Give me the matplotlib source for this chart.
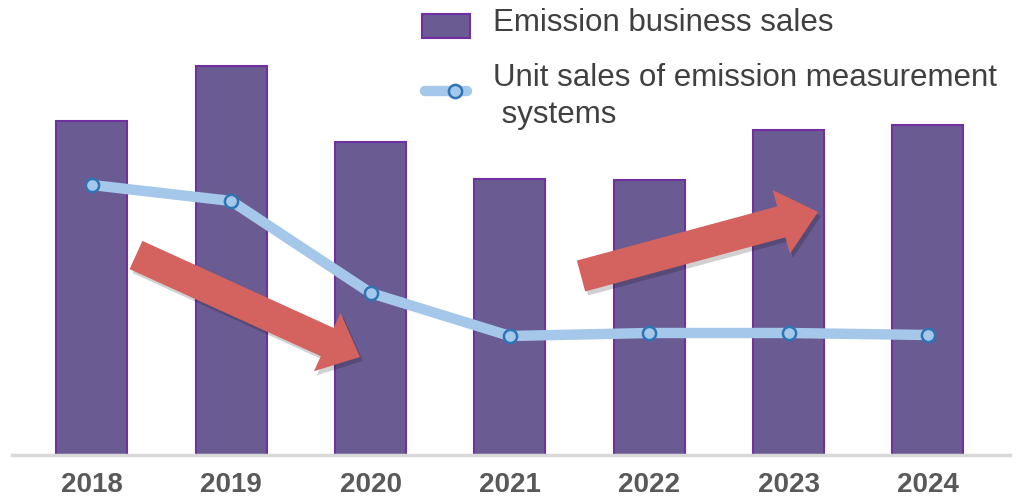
"""Emission business sales vs unit sales of emission measurement systems."""
import numpy as np
import matplotlib
matplotlib.use("Agg")
import matplotlib.pyplot as plt
from matplotlib.patches import Polygon, Rectangle
from matplotlib.lines import Line2D
from matplotlib.transforms import IdentityTransform

years = ["2018", "2019", "2020", "2021", "2022", "2023", "2024"]
business_sales = [334, 389, 313, 276, 275, 325, 330]   # relative index (no axis shown)
unit_sales = [270, 254, 162, 119, 122, 122, 120]       # relative index

W, H = 1033, 498
BAR_FACE = "#6a5b92"
BAR_EDGE = "#7030a0"
LINE_C = "#a4c7ea"
MARK_EDGE = "#2e75b6"
ARROW_C = "#d4625e"
TEXT_C = "#404040"

plt.rcParams["font.family"] = ["Liberation Sans", "DejaVu Sans"]

fig = plt.figure(figsize=(W / 100, H / 100), dpi=100)
ax = fig.add_axes([12 / W, 43 / H, 998 / W, 455 / H])

x = np.arange(len(years))
ax.bar(x, business_sales, width=0.51, color=BAR_FACE, edgecolor=BAR_EDGE,
       linewidth=1.5, zorder=2)
ax.plot(x, unit_sales, color=LINE_C, lw=7.5, solid_capstyle="round", zorder=3,
        marker="o", ms=9.5, mfc=LINE_C, mec=MARK_EDGE, mew=1.8)

ax.set_xlim(-0.574, 6.59)
ax.set_ylim(0, 455)
ax.set_xticks(x)
ax.set_xticklabels(years, fontsize=20, fontweight="bold", color="#595959")
ax.tick_params(axis="x", length=0, pad=12)
ax.set_yticks([])
for s in ["top", "left", "right"]:
    ax.spines[s].set_visible(False)
ax.spines["bottom"].set_color("#d9d9d9")
ax.spines["bottom"].set_linewidth(2.5)


# big block arrows, given in image pixel coords (y down)
def block_arrow(tail, tip, shaft_w, head_w, head_l):
    t = np.array([tail[0], H - tail[1]], float)
    p = np.array([tip[0], H - tip[1]], float)
    d = p - t
    u = d / np.hypot(*d)
    n = np.array([-u[1], u[0]])
    b = p - u * head_l
    pts = [t + n * shaft_w / 2, b + n * shaft_w / 2, b + n * head_w / 2, p,
           b - n * head_w / 2, b - n * shaft_w / 2, t - n * shaft_w / 2]
    shadow = [q + np.array([3, -4]) for q in pts]
    fig.patches.append(Polygon(shadow, closed=True, transform=IdentityTransform(),
                               facecolor="#000000", alpha=0.18, edgecolor="none",
                               zorder=4, figure=fig))
    fig.patches.append(Polygon(pts, closed=True, transform=IdentityTransform(),
                               facecolor=ARROW_C, edgecolor="none", zorder=5, figure=fig))


block_arrow((136, 255), (360, 357), 31, 64, 36)
block_arrow((581, 276), (818, 212), 32, 66, 38)

# legend drawn by hand
fig.patches.append(Rectangle((422 / W, 1 - 38 / H), 48 / W, 24 / H,
                             transform=fig.transFigure, facecolor=BAR_FACE,
                             edgecolor=BAR_EDGE, linewidth=1.5, figure=fig))
fig.text(493 / W, 1 - 23 / H, "Emission business sales", fontsize=22.5,
         color=TEXT_C, va="center", ha="left")
fig.lines.append(Line2D([425 / W, 467 / W], [1 - 91 / H, 1 - 91 / H],
                        transform=fig.transFigure, color=LINE_C, lw=7.5,
                        solid_capstyle="round", figure=fig))
fig.lines.append(Line2D([455 / W], [1 - 91 / H], transform=fig.transFigure,
                        marker="o", ms=9.5, mfc=LINE_C, mec=MARK_EDGE, mew=1.8,
                        figure=fig))
fig.text(493 / W, 1 - 78 / H, "Unit sales of emission measurement", fontsize=22.5,
         color=TEXT_C, va="center", ha="left")
fig.text(493 / W, 1 - 115 / H, " systems", fontsize=22.5,
         color=TEXT_C, va="center", ha="left")

fig.savefig("out.png", dpi=100)
plt.close(fig)
